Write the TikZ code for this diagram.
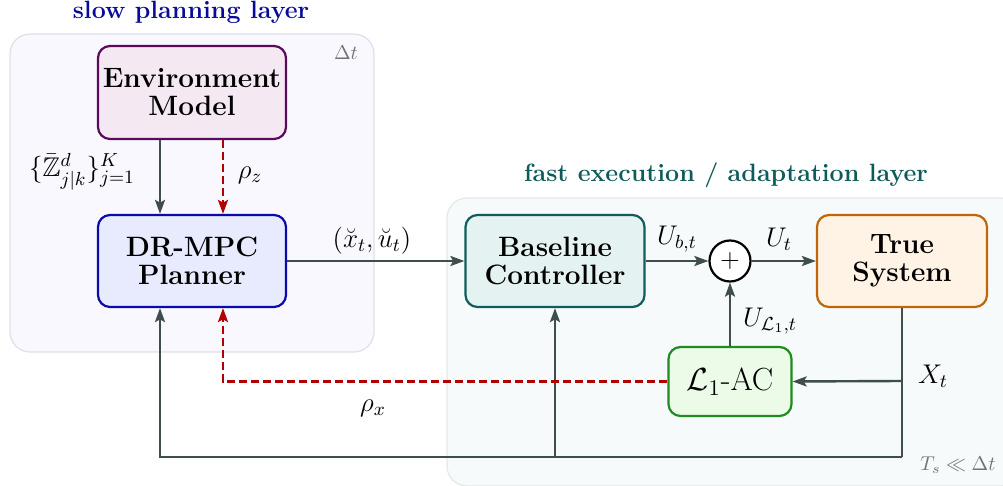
\RequirePackage{fix-cm}
\documentclass[tikz,border=0pt]{standalone}
\usepackage{amsmath,amssymb}
\usetikzlibrary{arrows.meta,calc}
\definecolor{slowbg}{HTML}{F9F8FE}
\definecolor{slowbd}{HTML}{E0DEEC}
\definecolor{fastbg}{HTML}{F6FAFB}
\definecolor{fastbd}{HTML}{E2E9EA}
\definecolor{envfill}{HTML}{F4E8F2}
\definecolor{envdraw}{HTML}{5A0A5A}
\definecolor{mpcfill}{HTML}{E8EAFD}
\definecolor{mpcdraw}{HTML}{0A0AAA}
\definecolor{basefill}{HTML}{E4F2F1}
\definecolor{basedraw}{HTML}{0F5C5C}
\definecolor{truefill}{HTML}{FFF3E5}
\definecolor{truedraw}{HTML}{C0650A}
\definecolor{lfill}{HTML}{EBFBE8}
\definecolor{ldraw}{HTML}{1E8C1E}
\definecolor{slowtitle}{HTML}{0A0A99}
\definecolor{fasttitle}{HTML}{0F5A5A}
\definecolor{conn}{HTML}{3F4D4D}
\definecolor{redc}{HTML}{B20000}
\tikzset{
  blockbox/.style={rounded corners=6pt, line width=1.1pt, align=center,
    font=\fontsize{14}{14}\selectfont\bfseries, inner sep=2pt},
  layerbg/.style={rounded corners=10pt, line width=0.6pt},
  flow/.style={draw=conn, line width=1.2pt, -{Stealth[length=7pt,width=5pt,inset=1.4pt]}},
  plainflow/.style={draw=conn, line width=1.2pt},
  redflow/.style={draw=redc, line width=1.2pt, dash pattern=on 4pt off 2pt,
    -{Stealth[length=7pt,width=5pt,inset=1.4pt]}},
  lbl/.style={font=\fontsize{13.5}{14}\selectfont, inner sep=0pt},
  note/.style={font=\fontsize{10}{11}\selectfont, text=black!55, inner sep=0pt},
  ttl/.style={font=\fontsize{12.5}{13}\selectfont\bfseries, inner sep=0pt},
}
\begin{document}
\begin{tikzpicture}[x=0.5pt,y=-0.5pt]
\useasboundingbox (0,0) rectangle (1003,486);
% layer backgrounds
\draw[layerbg, fill=slowbg, draw=slowbd] (10,34) rectangle (374,352);
\draw[layerbg, fill=fastbg, draw=fastbd] (447,198) rectangle (1020,486);
\node[ttl, text=slowtitle] (tslow) at (191,12) {slow planning layer};
\node[ttl, text=fasttitle] (tfast) at (726,175) {fast execution / adaptation layer};
\node[note] (dt) at (346,53) {$\Delta t$};
\node[note] (ts) at (958,465) {$T_s \ll \Delta t$};
% blocks
\node[blockbox, fill=envfill, draw=envdraw, minimum width=94pt, minimum height=46.5pt] (env) at (192,92.5) {Environment\\Model};
\node[blockbox, fill=mpcfill, draw=mpcdraw, minimum width=94pt, minimum height=46pt] (mpc) at (192,261) {DR-MPC\\Planner};
\node[blockbox, fill=basefill, draw=basedraw, minimum width=89.5pt, minimum height=46pt] (base) at (555,261) {Baseline\\Controller};
\node[blockbox, fill=truefill, draw=truedraw, minimum width=85pt, minimum height=46pt] (true) at (902,261) {True\\System};
\node[blockbox, fill=lfill, draw=ldraw, minimum width=61.5pt, minimum height=34.5pt, font=\fontsize{16}{17}\selectfont] (l1) at (730,381.5) {$\mathcal{L}_1$-AC};
\node[circle, draw=black, fill=white, line width=1.1pt, minimum size=20.5pt, inner sep=0pt, font=\fontsize{13}{14}\selectfont] (sum) at (730,261) {$+$};
% coordinates
\coordinate (xt) at (902,381);
\coordinate (bot) at (902,457);
\coordinate (bbr) at (555,457);
% connectors
\draw[flow] ([xshift=-16pt]env.south) -- ([xshift=-16pt]mpc.north);
\draw[redflow] ([xshift=15.5pt]env.south) -- ([xshift=15.5pt]mpc.north);
\draw[flow] (mpc.east) -- (base.west);
\draw[flow] (base.east) -- (sum.west);
\draw[flow] (sum.east) -- (true.west);
\draw[flow] (l1.north) -- (sum.south);
\draw[plainflow] (true.south) -- (bot);
\draw[flow] (bot) -| ([xshift=-16pt]mpc.south);
\draw[flow] (bbr) -- (base.south);
\draw[flow] (xt) -- (l1.east);
\draw[redflow] (l1.west) -| ([xshift=15.5pt]mpc.south);
% labels
\node[lbl] (lz) at (82,172) {$\{\bar{\mathbb{Z}}^d_{j|k}\}_{j=1}^K$};
\node[lbl] (lrz) at (250,175) {$\rho_z$};
\node[lbl] (lxu) at (372,241) {$(\breve{x}_t, \breve{u}_t)$};
\node[lbl] (lub) at (677,239) {$U_{b,t}$};
\node[lbl] (lut) at (779,239) {$U_t$};
\node[lbl] (lul) at (770,321) {$U_{\mathcal{L}_1,t}$};
\node[lbl] (lx) at (933,376) {$X_t$};
\node[lbl] (lrx) at (373,408) {$\rho_x$};
\end{tikzpicture}
\end{document}
